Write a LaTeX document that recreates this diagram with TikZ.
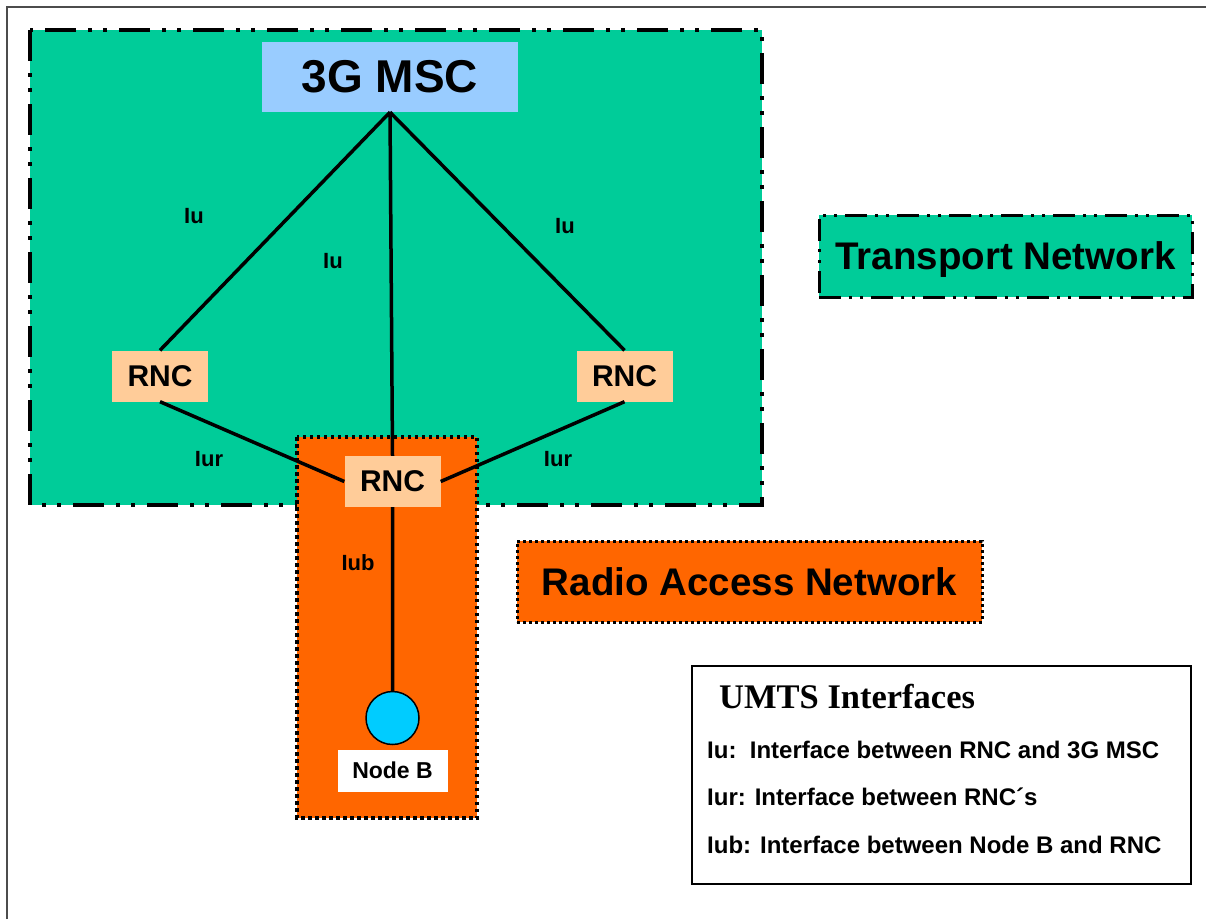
\documentclass[tikz,border=0pt]{standalone}
\usepackage{fontspec}
\setmainfont{Liberation Sans}
\newfontfamily\legendfont{Liberation Serif}
\usetikzlibrary{positioning}

\definecolor{transgreen}{HTML}{00CC99}
\definecolor{mscblue}{HTML}{99CCFF}
\definecolor{rncpeach}{HTML}{FFCC99}
\definecolor{ranorange}{HTML}{FF6600}
\definecolor{nodebcyan}{HTML}{00CCFF}

\tikzset{
	msc/.style={fill=mscblue, minimum width=256pt, minimum height=70pt, inner sep=0pt, font=\fontsize{46}{46}\selectfont\bfseries},
	rnc/.style={fill=rncpeach, minimum width=96pt, minimum height=51pt, inner sep=0pt, font=\fontsize{30}{30}\selectfont\bfseries},
	nodeb/.style={circle, draw, line width=1.5pt, fill=nodebcyan, minimum size=53pt, inner sep=0pt},
	nodeblabel/.style={fill=white, minimum width=110pt, minimum height=42pt, inner sep=0pt, font=\fontsize{23}{23}\selectfont\bfseries},
	iface/.style={inner sep=0pt, font=\fontsize{22}{22}\selectfont\bfseries},
	link/.style={line width=3.5pt},
	transport/.style={draw, fill=transgreen, line width=4pt, dash pattern=on 31pt off 12pt on 4pt off 11pt on 4pt off 12pt},
	ran/.style={draw, fill=ranorange, line width=3.5pt, dash pattern=on 3.5pt off 3.5pt},
	tnbox/.style={draw, fill=transgreen, line width=3pt, dash pattern=on 22pt off 8pt on 3pt off 8pt on 3pt off 8pt, minimum width=373pt, minimum height=82pt, inner sep=0pt, text depth=0pt, font=\fontsize{38.5}{38.5}\selectfont\bfseries},
	ranbox/.style={draw, fill=ranorange, line width=3pt, dash pattern=on 3pt off 3pt, minimum width=465pt, minimum height=81pt, inner sep=0pt, font=\fontsize{38.5}{38.5}\selectfont\bfseries},
	legend/.style={draw, line width=1.5pt, minimum width=499pt, minimum height=218pt, inner sep=0pt},
	legendline/.style={anchor=base west, inner sep=0pt, font=\fontsize{24}{24}\selectfont\bfseries}
}

\begin{document}
\begin{tikzpicture}[x=1pt, y=-1pt, on grid]
	\useasboundingbox (0,0) rectangle (1206,919);
	\draw[black!70, line width=1.5pt] (7,919) -- (7,7) -- (1206,7);
	
	% network areas
	\path[transport] (30,30) rectangle (762,505);
	\path[ran] (297,437) rectangle (477,818);
	
	\node[msc]   (msc)   at (390,77) {3G MSC};
	\node[rnc]   (rnc_c) at (392.5,481.5) {RNC};
	\node[rnc]   (rnc_l) [below left=299pt and 230pt of msc] {RNC};
	\node[rnc]   (rnc_r) [below right=299pt and 234.5pt of msc] {RNC};
	\node[nodeb] (nodeb) [below=236.5pt of rnc_c] {};
	\node[nodeblabel] (nodeb_lbl) [below=52.5pt of nodeb] {Node B};
	
	\draw[link] (msc.south) -- (rnc_l.north)
		(msc.south) -- (rnc_c.north)
		(msc.south) -- (rnc_r.north)
		(rnc_l.south) -- (rnc_c.west)
		(rnc_r.south) -- (rnc_c.east)
		(rnc_c.south) -- (nodeb.north);
	
	\node[iface] (iu_l)  at (194,216) {Iu};
	\node[iface] (iu_c)  at (333,261) {Iu};
	\node[iface] (iu_r)  at (565,226) {Iu};
	\node[iface] (iur_l) at (209,459) {Iur};
	\node[iface] (iur_r) at (558,459) {Iur};
	\node[iface] (iub)   at (358,563) {Iub};
	
	\node[tnbox]  (tn_lbl)  at (1005.5,256) {Transport Network};
	\node[ranbox] (ran_lbl) at (749.5,581.5) {Radio Access Network};
	
	% legend
	\node[legend] (legend) at (941.5,775) {};
	\node[anchor=base west, inner sep=0pt, font=\legendfont\fontsize{34.5}{34.5}\selectfont\bfseries] (leg_title) at (719,708) {UMTS Interfaces};
	\node[legendline] (leg_iu)  at (707,758) {Iu:\ \ Interface between RNC and 3G MSC};
	\node[legendline] (leg_iur) at (707,805) {Iur: Interface between RNC´s};
	\node[legendline] (leg_iub) at (707,853) {Iub: Interface between Node B and RNC};
\end{tikzpicture}
\end{document}
